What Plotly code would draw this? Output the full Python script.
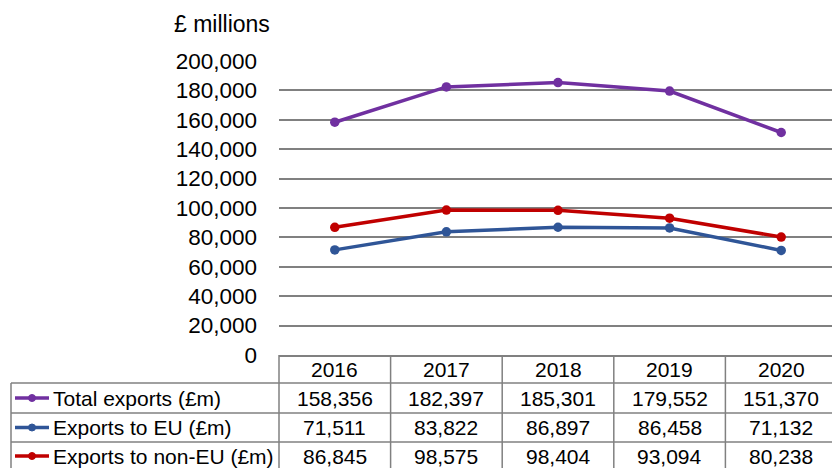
import plotly.graph_objects as go

# data
years = ["2016", "2017", "2018", "2019", "2020"]
total_exports = [158356, 182397, 185301, 179552, 151370]
exports_eu = [71511, 83822, 86897, 86458, 71132]
exports_non_eu = [86845, 98575, 98404, 93094, 80238]
series_names = ["Total exports (£m)", "Exports to EU (£m)", "Exports to non-EU (£m)"]
y_ticks = list(range(0, 200001, 20000))

colors = ["#7030A0", "#2F5597", "#C00000"]
series = [total_exports, exports_eu, exports_non_eu]

W, H = 832, 468
left, top, base = 279, 61, 355      # plot area in pixels
cat_w = 111.6                       # one category column in pixels
x_end = -0.5 + (W - left) / cat_w
FONT = "Liberation Sans"
GRID = "#808080"


def px_x(x):
    return (x - left) / (W - left)


def px_y(y):
    return (base - y) / (base - top)


fig = go.Figure()
for name, vals, col in zip(series_names, series, colors):
    fig.add_trace(go.Scatter(x=years, y=vals, name=name, mode="lines+markers",
                             line=dict(color=col, width=3.5),
                             marker=dict(color=col, size=9.5)))

# data table under the chart
row_mid = [369.5, 398, 427.5, 456]
shapes, annos = [], []
for y in [383, 413, 442]:
    shapes.append(dict(type="line", xref="paper", yref="paper", x0=px_x(11), x1=px_x(840),
                       y0=px_y(y), y1=px_y(y), line=dict(color=GRID, width=1.5)))
shapes.append(dict(type="line", xref="paper", yref="paper", x0=px_x(11), x1=px_x(11),
                   y0=px_y(383), y1=px_y(475), line=dict(color=GRID, width=1.5)))
for b in range(5):
    xb = px_x(left + b * cat_w)
    shapes.append(dict(type="line", xref="paper", yref="paper", x0=xb, x1=xb,
                       y0=px_y(base), y1=px_y(475), line=dict(color=GRID, width=1.5)))

cell = dict(showarrow=False, xanchor="center", yanchor="middle", font=dict(size=21))
for i, yr in enumerate(years):
    annos.append(dict(x=i, y=px_y(row_mid[0]), xref="x", yref="paper", text=yr, **cell))
    for r, vals in enumerate(series):
        annos.append(dict(x=i, y=px_y(row_mid[r + 1]), xref="x", yref="paper",
                          text=f"{vals[i]:,}", **cell))

for r, (name, col) in enumerate(zip(series_names, colors)):
    ym = px_y(row_mid[r + 1])
    shapes.append(dict(type="line", xref="paper", yref="paper", x0=px_x(15), x1=px_x(49),
                       y0=ym, y1=ym, line=dict(color=col, width=3.5)))
    shapes.append(dict(type="circle", xref="paper", yref="paper", fillcolor=col,
                       line=dict(color=col, width=1),
                       x0=px_x(28.5), x1=px_x(35.5), y0=ym - 3.5 / 294, y1=ym + 3.5 / 294))
    annos.append(dict(x=px_x(51), y=ym, xref="paper", yref="paper", text=name,
                      xanchor="left", yanchor="middle", showarrow=False, font=dict(size=21)))

annos.append(dict(x=px_x(172), y=px_y(24), xref="paper", yref="paper", text="£ millions",
                  xanchor="left", yanchor="middle", showarrow=False, font=dict(size=23)))

fig.update_layout(
    width=W, height=H, showlegend=False,
    paper_bgcolor="white", plot_bgcolor="white",
    margin=dict(l=left, r=0, t=top, b=H - base),
    font=dict(family=FONT, color="black", size=21),
    shapes=shapes, annotations=annos,
)
fig.update_xaxes(type="category", range=[-0.5, x_end], showticklabels=False, showgrid=False,
                 showline=True, linecolor=GRID, linewidth=1.5, ticks="")
fig.update_yaxes(range=[0, 200000], tickvals=y_ticks, tickformat=",", showgrid=True,
                 gridcolor=GRID, gridwidth=1.5, zeroline=False, showline=False,
                 ticklabelstandoff=21, tickfont=dict(size=22.5))

# the page body has a default 8px margin; remove it so the figure sits at 0,0
fig.write_html("out.html", config={"displayModeBar": False},
               post_script="document.body.style.margin='0';")
